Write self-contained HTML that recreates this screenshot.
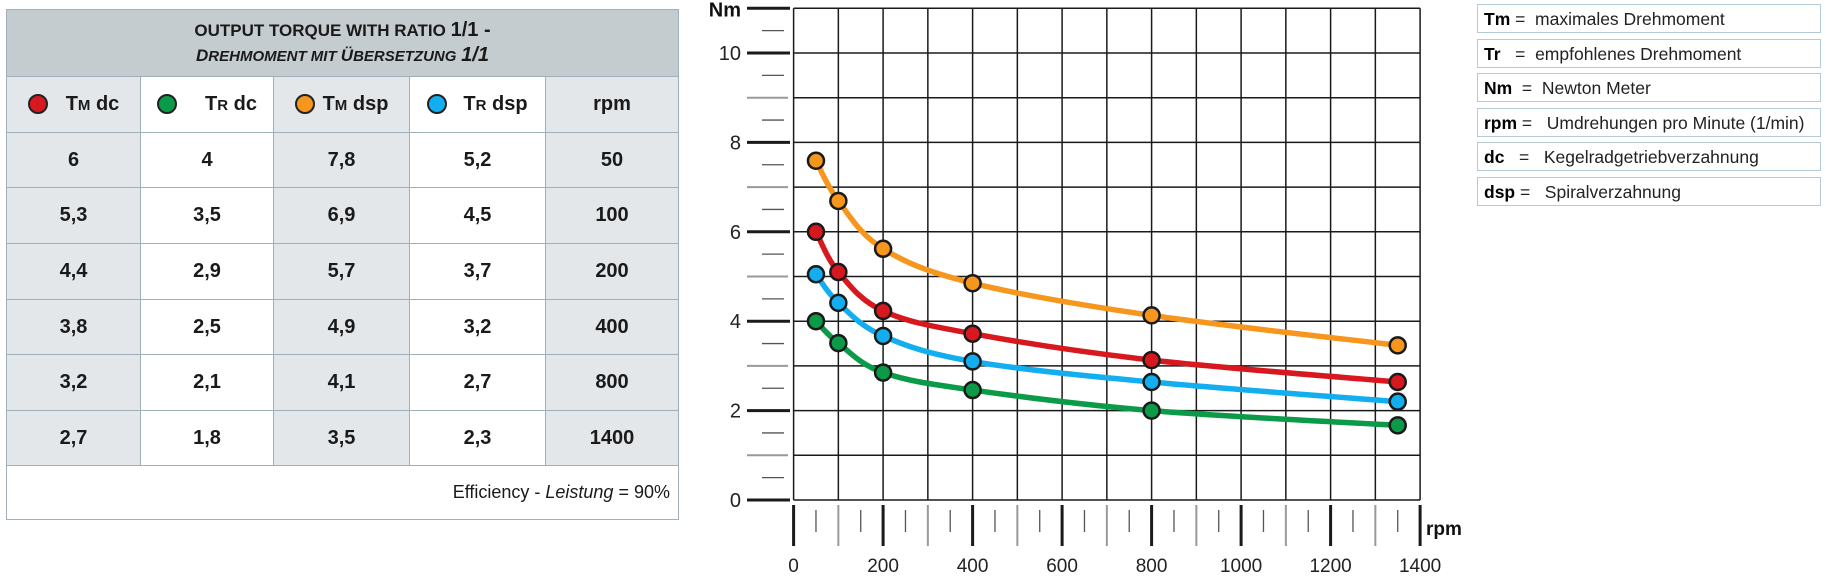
<!DOCTYPE html>
<html><head><meta charset="utf-8"><style>
html,body{margin:0;padding:0;background:#fff;width:1826px;height:578px;overflow:hidden}
.t{position:absolute;left:6px;top:9px;width:673px;border-collapse:collapse;font-family:"Liberation Sans",sans-serif;color:#1a1a1a}
.t td{border:1.5px solid #9fb0bb;text-align:center;font-weight:bold;font-size:20px;padding:0}
.g{background:#e4e7ea}.w{background:#fff}
.dot{display:inline-block;width:16px;height:16px;border-radius:50%;border:2.5px solid #222;vertical-align:-4px;margin-right:18px}
.sc{font-size:15px}
.lg{position:absolute;left:1477px;width:344px;height:29px;border:1.5px solid #b4cad6;font-family:"Liberation Sans",sans-serif;font-size:17.5px;line-height:29px;color:#222;box-sizing:border-box;padding-left:6px;white-space:pre}
.lg b{color:#000}
</style></head><body>
<table class="t">
<tr style="height:67px"><td colspan="5" style="background:#c5ccd0;font-size:17px;line-height:25px">OUTPUT TORQUE WITH RATIO <span style="font-size:20px">1/1 -</span><br><i>D<span class="sc">REHMOMENT MIT </span>Ü<span class="sc">BERSETZUNG</span> <span style="font-size:20px">1/1</span></i></td></tr>
<tr style="height:56px"><td class="g" style="width:133px"><span class="dot" style="background:#d7191f"></span>T<span class="sc">M</span> dc</td><td class="w" style="width:132px"><span class="dot" style="background:#0a9a48;margin-right:28px"></span>T<span class="sc">R</span> dc</td><td class="g" style="width:135px"><span class="dot" style="background:#f7961d;margin-right:8px"></span>T<span class="sc">M</span> dsp</td><td class="w" style="width:135px"><span class="dot" style="background:#12aeef;margin-right:16px"></span>T<span class="sc">R</span> dsp</td><td class="g">rpm</td></tr>
<tr style="height:55px"><td class="g">6</td><td class="w">4</td><td class="g">7,8</td><td class="w">5,2</td><td class="g">50</td></tr>
<tr style="height:56px"><td class="g">5,3</td><td class="w">3,5</td><td class="g">6,9</td><td class="w">4,5</td><td class="g">100</td></tr>
<tr style="height:56px"><td class="g">4,4</td><td class="w">2,9</td><td class="g">5,7</td><td class="w">3,7</td><td class="g">200</td></tr>
<tr style="height:55px"><td class="g">3,8</td><td class="w">2,5</td><td class="g">4,9</td><td class="w">3,2</td><td class="g">400</td></tr>
<tr style="height:56px"><td class="g">3,2</td><td class="w">2,1</td><td class="g">4,1</td><td class="w">2,7</td><td class="g">800</td></tr>
<tr style="height:55px"><td class="g">2,7</td><td class="w">1,8</td><td class="g">3,5</td><td class="w">2,3</td><td class="g">1400</td></tr>
<tr style="height:54px"><td colspan="5" style="text-align:right;font-weight:normal;font-size:18px;padding-right:8px;background:#fff">Efficiency - <i>Leistung</i> = 90%</td></tr>
</table>

<div class="lg" style="top:4px"><b>Tm</b> =  maximales Drehmoment</div>
<div class="lg" style="top:38.5px"><b>Tr</b>   =  empfohlenes Drehmoment</div>
<div class="lg" style="top:73px"><b>Nm</b>  =  Newton Meter</div>
<div class="lg" style="top:107.5px"><b>rpm</b> =   Umdrehungen pro Minute (1/min)</div>
<div class="lg" style="top:142px"><b>dc</b>   =   Kegelradgetriebverzahnung</div>
<div class="lg" style="top:176.5px"><b>dsp</b> =   Spiralverzahnung</div>

<svg id="c" width="1826" height="578" style="position:absolute;left:0;top:0" xmlns="http://www.w3.org/2000/svg" font-family="Liberation Sans, sans-serif"></svg>
<script>
var s=document.getElementById('c'),h='';
function X(r){return 793.6+0.4475*r}
function Y(v){return 500-44.7*v}
// grid
for(var r=0;r<=1400;r+=100)h+='<line x1="'+X(r)+'" y1="8.3" x2="'+X(r)+'" y2="500" stroke="#1a1a1a" stroke-width="1.5"/>';
for(var v=0;v<=11;v++)h+='<line x1="793.6" y1="'+Y(v)+'" x2="'+X(1400)+'" y2="'+Y(v)+'" stroke="#1a1a1a" stroke-width="1.5"/>';
// y ticks
for(var k=0;k<=22;k++){var v=k/2,y=Y(v);
 if(k%2==1)h+='<line x1="762" y1="'+y+'" x2="784" y2="'+y+'" stroke="#555" stroke-width="1.3"/>';
 else if(v%2==0||v==11)h+='<line x1="747" y1="'+y+'" x2="790" y2="'+y+'" stroke="#1a1a1a" stroke-width="3"/>';
 else h+='<line x1="747" y1="'+y+'" x2="788" y2="'+y+'" stroke="#999" stroke-width="2"/>';
 if(k%4==0&&v<11)h+='<text x="741" y="'+(y+7)+'" text-anchor="end" font-size="20" fill="#222">'+v+'</text>';
}
h+='<text x="741" y="'+(Y(11)+8)+'" text-anchor="end" font-size="20" fill="#111" font-weight="bold">Nm</text>';
// x ticks
for(var r=0;r<=1400;r+=50){var x=X(r);
 if(r%200==0){h+='<line x1="'+x+'" y1="505" x2="'+x+'" y2="546" stroke="#1a1a1a" stroke-width="3"/>';
  h+='<text x="'+x+'" y="572" text-anchor="middle" font-size="19" fill="#222">'+r+'</text>';}
 else if(r%100==0)h+='<line x1="'+x+'" y1="505" x2="'+x+'" y2="546" stroke="#999" stroke-width="2"/>';
 else h+='<line x1="'+x+'" y1="510" x2="'+x+'" y2="532" stroke="#555" stroke-width="1.3"/>';
}
h+='<text x="1426" y="535" font-size="19" font-weight="bold" fill="#111">rpm</text>';
var R=[50,100,200,400,800,1350];
var S=[['#f7961d',[7.59,6.69,5.62,4.85,4.13,3.46]],['#d7191f',[6.0,5.1,4.23,3.72,3.13,2.64]],['#12aeef',[5.05,4.41,3.67,3.10,2.64,2.2]],['#0a9a48',[4.0,3.51,2.85,2.46,2.0,1.67]]];
S.forEach(function(sr){
 var P=R.map(function(r,i){return [X(r),Y(sr[1][i])]});
 var d='M'+P[0][0]+' '+P[0][1];
 for(var i=0;i<P.length-1;i++){
  var p0=P[Math.max(0,i-1)],p1=P[i],p2=P[i+1],p3=P[Math.min(P.length-1,i+2)];
  var t=0.17;
  var c1=[p1[0]+(p2[0]-p0[0])*t,p1[1]+(p2[1]-p0[1])*t];
  var c2=[p2[0]-(p3[0]-p1[0])*t,p2[1]-(p3[1]-p1[1])*t];
  d+=' C'+c1+' '+c2+' '+p2;
 }
 h+='<path d="'+d+'" fill="none" stroke="'+sr[0]+'" stroke-width="5.5"/>';
 P.forEach(function(p){h+='<circle cx="'+p[0]+'" cy="'+p[1]+'" r="8" fill="'+sr[0]+'" stroke="#1a1a1a" stroke-width="2.5"/>'});
});
s.innerHTML=h;
</script>
</body></html>
